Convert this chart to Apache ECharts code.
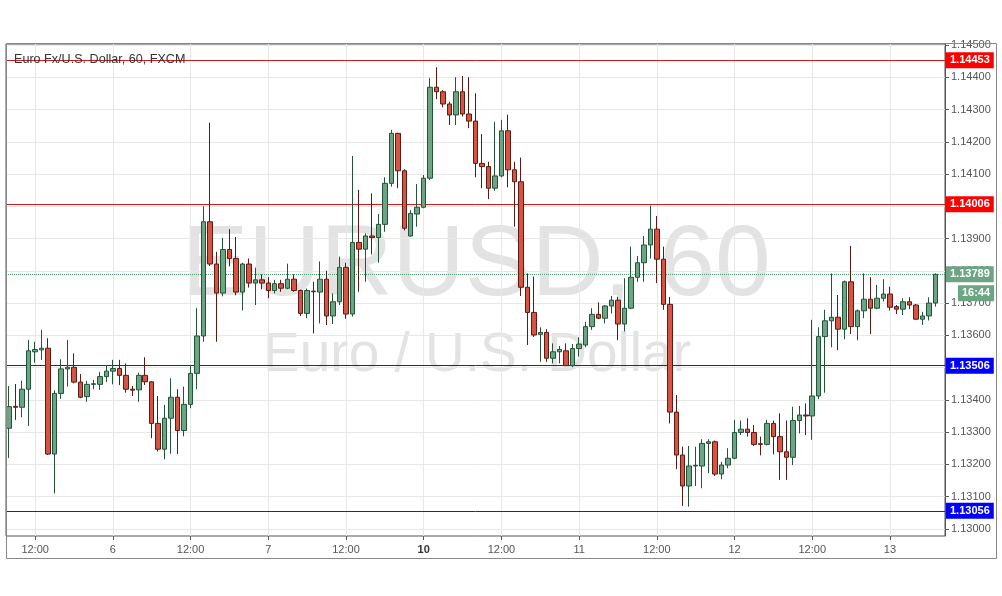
<!DOCTYPE html>
<html><head><meta charset="utf-8">
<script src="https://cdn.jsdelivr.net/npm/echarts@6/dist/echarts.min.js"></script>
<style>html,body{margin:0;padding:0;background:#fff}#c{width:1002px;height:596px}</style>
</head><body><div id="c"></div>
<script>
// Hourly sessions: [day, firstHour, lastHour]
const sessions = [['5',8,23],['6',0,23],['7',0,21],['9',22,23],['10',0,23],['11',0,23],['12',0,23],['13',0,7]];

const opens = [
1.13312,1.13380,1.13377,1.13433,1.13549,1.13555,1.13560,1.13232,1.13420,1.13496,1.13501,1.13455,
1.13410,1.13448,1.13448,1.13472,1.13489,1.13497,1.13476,1.13433,1.13431,1.13476,1.13456,1.13327,
1.13247,1.13343,1.13408,1.13305,1.13386,1.13482,1.13598,1.13952,1.13821,1.13731,1.13866,1.13838,
1.13734,1.13821,1.13762,1.13772,1.13762,1.13739,1.13760,1.13746,1.13774,1.13739,1.13668,1.13737,
1.13734,1.13774,1.13660,1.13704,1.13811,1.13666,1.13888,1.13867,1.13908,1.13903,1.13944,1.14071,
1.14226,1.14110,1.13908,1.13976,1.13997,1.14087,1.14369,1.14355,1.14317,1.14283,1.14355,1.14286,
1.14264,1.14133,1.14123,1.14056,1.14094,1.14234,1.14113,1.14076,1.13749,1.13671,1.13603,1.13609,
1.13529,1.13549,1.13552,1.13506,1.13559,1.13570,1.13627,1.13665,1.13653,1.13691,1.13709,1.13635,
1.13684,1.13780,1.13825,1.13880,1.13929,1.13836,1.13696,1.13362,1.13229,1.13133,1.13195,1.13195,
1.13265,1.13270,1.13170,1.13198,1.13219,1.13299,1.13309,1.13299,1.13264,1.13262,1.13327,1.13286,
1.13239,1.13222,1.13336,1.13353,1.13350,1.13412,1.13596,1.13645,1.13656,1.13619,1.13766,1.13627,
1.13676,1.13712,1.13684,1.13715,1.13728,1.13689,1.13681,1.13704,1.13694,1.13650,1.13660,1.13700];

const highs = [
1.13443,1.13449,1.13459,1.13586,1.13580,1.13617,1.13591,1.13429,1.13526,1.13586,1.13544,1.13480,
1.13459,1.13462,1.13487,1.13508,1.13524,1.13524,1.13513,1.13443,1.13484,1.13532,1.13458,1.13412,
1.13384,1.13467,1.13433,1.13441,1.13508,1.13684,1.14000,1.14259,1.13859,1.13902,1.13929,1.13905,
1.13825,1.13838,1.13810,1.13789,1.13781,1.13772,1.13772,1.13822,1.13789,1.13742,1.13745,1.13766,
1.13829,1.13800,1.13730,1.13844,1.13825,1.14156,1.14051,1.13916,1.14040,1.13976,1.14090,1.14237,
1.14228,1.14115,1.13988,1.14069,1.14097,1.14397,1.14431,1.14360,1.14324,1.14400,1.14404,1.14400,
1.14350,1.14224,1.14138,1.14262,1.14268,1.14284,1.14138,1.14151,1.13792,1.13782,1.13625,1.13619,
1.13575,1.13567,1.13575,1.13573,1.13594,1.13642,1.13684,1.13702,1.13694,1.13722,1.13719,1.13777,
1.13875,1.13846,1.13908,1.14002,1.13970,1.13875,1.13719,1.13415,1.13255,1.13257,1.13255,1.13278,
1.13278,1.13274,1.13208,1.13250,1.13338,1.13336,1.13343,1.13322,1.13286,1.13338,1.13336,1.13358,
1.13336,1.13379,1.13381,1.13389,1.13648,1.13625,1.13679,1.13792,1.13725,1.13770,1.13877,1.13680,
1.13792,1.13780,1.13756,1.13774,1.13751,1.13694,1.13715,1.13718,1.13697,1.13673,1.13718,1.13792];

const lows = [
1.13220,1.13338,1.13346,1.13319,1.13515,1.13524,1.13229,1.13110,1.13403,1.13441,1.13451,1.13405,
1.13394,1.13433,1.13431,1.13455,1.13448,1.13446,1.13422,1.13412,1.13394,1.13446,1.13281,1.13240,
1.13216,1.13233,1.13232,1.13287,1.13374,1.13433,1.13580,1.13815,1.13580,1.13721,1.13814,1.13724,
1.13677,1.13748,1.13694,1.13743,1.13715,1.13730,1.13735,1.13743,1.13735,1.13660,1.13653,1.13606,
1.13637,1.13632,1.13635,1.13694,1.13651,1.13658,1.13735,1.13766,1.13851,1.13825,1.13921,1.14061,
1.14056,1.13925,1.13906,1.13937,1.13994,1.14082,1.14332,1.14307,1.14252,1.14252,1.14278,1.14242,
1.14090,1.14056,1.14022,1.14048,1.14090,1.14059,1.13937,1.13722,1.13570,1.13595,1.13518,1.13518,
1.13513,1.13513,1.13505,1.13501,1.13534,1.13563,1.13617,1.13650,1.13637,1.13668,1.13585,1.13612,
1.13681,1.13766,1.13766,1.13838,1.13762,1.13679,1.13327,1.13185,1.13071,1.13069,1.13133,1.13126,
1.13173,1.13164,1.13154,1.13188,1.13216,1.13291,1.13286,1.13257,1.13228,1.13259,1.13231,1.13152,
1.13152,1.13198,1.13296,1.13291,1.13276,1.13402,1.13422,1.13563,1.13554,1.13588,1.13604,1.13585,
1.13653,1.13604,1.13681,1.13705,1.13677,1.13666,1.13663,1.13681,1.13648,1.13632,1.13646,1.13689];

const closes = [
1.13379,1.13377,1.13433,1.13552,1.13556,1.13560,1.13232,1.13420,1.13496,1.13501,1.13455,1.13408,
1.13448,1.13450,1.13472,1.13489,1.13497,1.13476,1.13433,1.13430,1.13476,1.13456,1.13327,1.13247,
1.13343,1.13408,1.13305,1.13386,1.13482,1.13598,1.13952,1.13821,1.13731,1.13866,1.13838,1.13734,
1.13821,1.13762,1.13772,1.13762,1.13739,1.13760,1.13746,1.13774,1.13739,1.13668,1.13739,1.13735,
1.13774,1.13660,1.13704,1.13811,1.13666,1.13888,1.13867,1.13908,1.13903,1.13944,1.14071,1.14226,
1.14110,1.13932,1.13978,1.13997,1.14087,1.14369,1.14355,1.14317,1.14283,1.14355,1.14286,1.14264,
1.14133,1.14123,1.14056,1.14094,1.14234,1.14113,1.14076,1.13749,1.13671,1.13601,1.13609,1.13529,
1.13549,1.13556,1.13506,1.13559,1.13573,1.13627,1.13665,1.13653,1.13691,1.13709,1.13635,1.13684,
1.13780,1.13825,1.13880,1.13929,1.13836,1.13696,1.13362,1.13229,1.13133,1.13195,1.13197,1.13265,
1.13270,1.13170,1.13198,1.13219,1.13299,1.13309,1.13299,1.13262,1.13262,1.13327,1.13286,1.13239,
1.13222,1.13336,1.13353,1.13350,1.13412,1.13596,1.13645,1.13656,1.13619,1.13766,1.13627,1.13676,
1.13712,1.13684,1.13715,1.13728,1.13687,1.13681,1.13704,1.13694,1.13650,1.13660,1.13700,1.13789];

const yTicks = [1.130,1.131,1.132,1.133,1.134,1.135,1.136,1.137,1.138,1.139,1.140,1.141,1.142,1.143,1.144,1.145];
const resistance = [1.14453, 1.14006];
const support = [1.13506, 1.13056];
const countdown = '16:44';
const titleText = 'Euro Fx/U.S. Dollar, 60, FXCM';
const watermark1 = 'EURUSD, 60';
const watermark2 = 'Euro / U.S. Dollar';

const cats = [];
sessions.forEach(([d, a, b]) => { for (let h = a; h <= b; h++) cats.push(d + ' ' + String(h).padStart(2, '0') + ':00'); });
cats.push(''); // empty slot at right edge
const candles = opens.map((o, i) => [o, closes[i], lows[i], highs[i]]);
const lastPrice = closes[closes.length - 1];
const isMajor = v => !!v && (v.endsWith(' 00:00') || v.endsWith(' 12:00'));

const FONT = 'Liberation Sans, Arial, sans-serif';
const chart = echarts.init(document.getElementById('c'));
const lbl = bg => ({show: true, position: 'end', distance: 1, color: '#fff', fontWeight: 'bold',
  fontSize: 11, fontFamily: FONT, padding: [3, 4, 2, 4], backgroundColor: bg,
  formatter: p => Number(p.value).toFixed(5)});
const levelSeries = (values, lineColor, boxColor, type) => ({
  type: 'line', data: [], silent: true, z: 2,
  markLine: {silent: true, z: 2, precision: 5, symbol: ['none', 'none'],
    label: lbl(boxColor), lineStyle: {color: lineColor, width: 1, type: type, opacity: 1},
    data: values.map(v => ({yAxis: v}))}
});

chart.setOption({
  animation: false,
  backgroundColor: '#fff',
  grid: {left: 6, right: 57, top: 44, bottom: 60, show: true, borderColor: '#555', borderWidth: 1},
  xAxis: {
    type: 'category', data: cats, boundaryGap: true,
    axisLine: {show: false},
    axisTick: {show: true, alignWithLabel: true, interval: (i, v) => isMajor(v), length: 4, lineStyle: {color: '#555'}},
    axisLabel: {
      interval: (i, v) => isMajor(v), color: '#555', fontSize: 11, margin: 8, fontFamily: FONT,
      formatter: v => {
        const [d, t] = v.split(' ');
        if (t === '12:00') return '12:00';
        return d === '10' ? '{b|' + d + '}' : d;
      },
      rich: {b: {fontWeight: 'bold', color: '#333', fontSize: 11, fontFamily: FONT}}
    },
    splitLine: {show: false}
  },
  yAxis: {
    type: 'value', position: 'right', min: 1.12978, max: 1.14503,
    axisLine: {show: true, lineStyle: {color: '#555'}},
    axisTick: {show: true, customValues: yTicks, length: 4, lineStyle: {color: '#555'}},
    axisLabel: {customValues: yTicks, formatter: v => v.toFixed(5), color: '#555', fontSize: 11, margin: 6, fontFamily: FONT},
    splitLine: {show: false}
  },
  graphic: [
    {type: 'text', z: 0, silent: true, style: {x: 476, y: 267, text: watermark1, textAlign: 'center', textVerticalAlign: 'middle',
      fontSize: 100, fontFamily: FONT, fill: '#e3e3e3'}},
    {type: 'text', z: 0, silent: true, style: {x: 477, y: 356, text: watermark2, textAlign: 'center', textVerticalAlign: 'middle',
      fontSize: 55, fontFamily: FONT, fill: '#e3e3e3'}},
    {type: 'text', z: 50, silent: true, style: {x: 14, y: 60, text: titleText, textVerticalAlign: 'middle',
      fontSize: 12.6, fontFamily: FONT, fill: '#333'}},
    {type: 'rect', z: 50, silent: true, shape: {x: 6.5, y: 43.5, width: 990, height: 515}, style: {fill: null, stroke: '#888', lineWidth: 1}}
  ],
  series: [
    {
      type: 'line', data: [], silent: true, z: 1,
      markLine: {
        silent: true, z: 1, precision: 5, symbol: ['none', 'none'], label: {show: false},
        lineStyle: {color: '#e8e8e8', width: 1, type: 'solid'},
        data: [...yTicks.map(v => ({yAxis: v})), ...cats.filter(isMajor).map(c => ({xAxis: c}))]
      }
    },
    levelSeries(resistance, '#d01c1c', '#ff0000', 'solid'),
    levelSeries(support, '#1a1ad0', '#0000ff', 'solid'),
    levelSeries([lastPrice], '#4f9a6f', '#6ba583', 'dotted'),
    {
      type: 'line', data: [], silent: true, z: 2,
      markLine: {silent: true, z: 2, precision: 5, symbol: ['none', 'none'],
        lineStyle: {color: 'rgba(0,0,0,0)', width: 0},
        label: Object.assign(lbl('#6ba583'), {formatter: countdown, offset: [12, 19]}),
        data: [{yAxis: lastPrice}]}
    },
    {
      type: 'candlestick', data: candles, z: 3, barWidth: 5,
      itemStyle: {color: '#6ba583', color0: '#d75442', borderColor: '#225437', borderColor0: '#5b1a13', borderWidth: 1}
    }
  ]
});
</script></body></html>
